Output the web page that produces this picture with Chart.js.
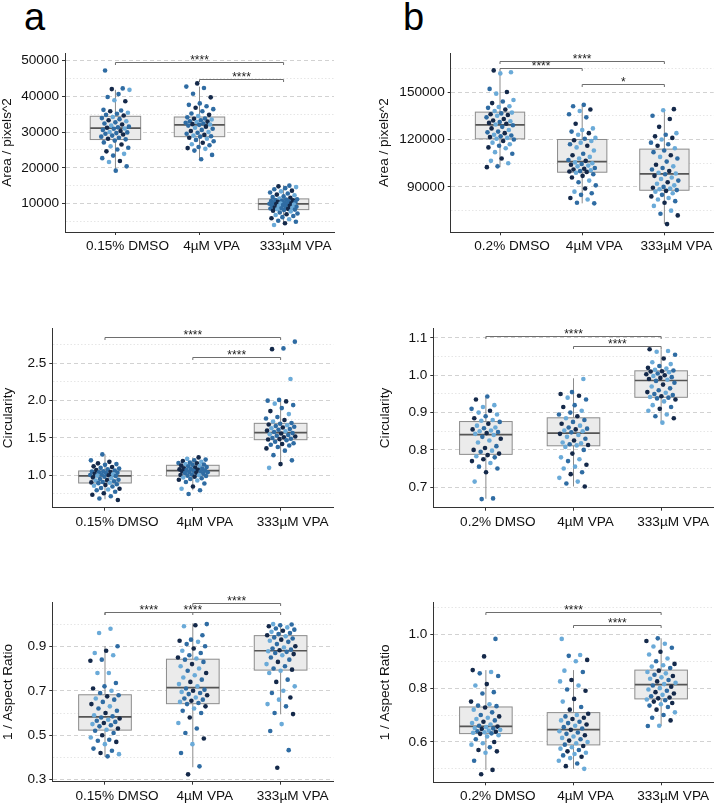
<!DOCTYPE html>
<html><head><meta charset="utf-8">
<script src="https://cdn.jsdelivr.net/npm/chart.js@4.4.1/dist/chart.umd.min.js"></script>
<style>
body{margin:0;background:#fff;width:716px;height:803px;position:relative;overflow:hidden;font-family:"Liberation Sans",Arial,Helvetica,sans-serif}
canvas{position:absolute}
.lbl{position:absolute;font-size:38px;line-height:38px;color:#000;font-family:"Liberation Sans",Arial,sans-serif}
</style></head><body>
<div class="lbl" style="left:24px;top:-2px">a</div>
<div class="lbl" style="left:403px;top:-2px">b</div>
<script>
// ---------- categories ----------
const categoriesA = ['0.15% DMSO', '4µM VPA', '333µM VPA'];
const categoriesB = ['0.2% DMSO', '4µM VPA', '333µM VPA'];

// ---------- tick labels ----------
const areaA_ticks = [10000, 20000, 30000, 40000, 50000];
const areaB_ticks = [90000, 120000, 150000];
const circA_ticks = [1.0, 1.5, 2.0, 2.5];
const circB_ticks = [0.7, 0.8, 0.9, 1.0, 1.1];
const arA_ticks = [0.3, 0.5, 0.7, 0.9];
const arB_ticks = [0.6, 0.8, 1.0];
const areaA_minor = [5000, 15000, 25000, 35000, 45000];
const areaB_minor = [75000, 105000, 135000, 165000];
const circA_minor = [0.75, 1.25, 1.75, 2.25, 2.75];
const circB_minor = [0.75, 0.85, 0.95, 1.05];
const arA_minor = [0.4, 0.6, 0.8, 1.0];
const arB_minor = [0.5, 0.7, 0.9, 1.1];

// ---------- box statistics [lowWhisker, q1, median, q3, highWhisker] ----------
const areaA_boxes = [[19300, 27900, 31100, 34400, 41800], [22400, 28700, 32000, 34200, 42700], [4800, 8300, 9900, 11300, 15100]];
const areaB_boxes = [[102500, 120400, 129300, 137300, 162400], [79600, 99300, 106000, 120000, 141900], [66500, 87900, 98200, 113900, 139200]];
const circA_boxes = [[0.679, 0.897, 0.991, 1.058, 1.281], [0.80, 0.991, 1.062, 1.134, 1.24], [1.151, 1.477, 1.571, 1.696, 2.01]];
const circB_boxes = [[0.669, 0.788, 0.841, 0.876, 0.941], [0.702, 0.811, 0.845, 0.886, 0.992], [0.873, 0.941, 0.986, 1.012, 1.070]];
const arA_boxes = [[0.403, 0.523, 0.583, 0.682, 0.901], [0.356, 0.642, 0.714, 0.842, 1.003], [0.594, 0.793, 0.880, 0.948, 1.003]];
const arB_boxes = [[0.496, 0.631, 0.658, 0.730, 0.867], [0.50, 0.589, 0.646, 0.709, 0.867], [0.659, 0.760, 0.813, 0.867, 0.985]];

// ---------- significance brackets [fromGroup, toGroup, yValue, label] ----------
const areaA_sig = [[0, 2, 49700, '****'], [1, 2, 44800, '****']];
const areaB_sig = [[0, 2, 169400, '****'], [0, 1, 165000, '****'], [1, 2, 155300, '*']];
const circA_sig = [[0, 2, 2.856, '****'], [1, 2, 2.584, '****']];
const circB_sig = [[0, 2, 1.105, '****'], [1, 2, 1.078, '****']];
const arA_sig = [[0, 1, 1.056, '****'], [0, 2, 1.056, '****'], [1, 2, 1.093, '****']];
const arB_sig = [[0, 2, 1.082, '****'], [1, 2, 1.033, '****']];

// ---------- individual cell values ----------
const areaA_dmso = [47200, 42200, 42000, 41800, 40600, 39800, 38600, 38900, 36200, 36000, 35800, 35400, 35100, 34800, 34600,
  34200, 33900, 33600, 33300, 33000, 32700, 32400, 32100, 31800, 31500, 31300, 31200, 31000,
  30900, 30600, 30300, 30000, 29900, 29700, 29500, 29300, 29000, 28700, 28400, 28100, 27950,
  27600, 27100, 26500, 26000, 25600, 25100, 24600, 23900, 23400, 22700, 21900, 21600, 20400, 19200];
const areaA_vpa4 = [43600, 42700, 42300, 40700, 39700, 38000, 37600, 37200, 36800, 36400, 35800, 35200, 34800, 34500,
  34100, 33800, 33700, 33500, 33300, 33000, 32900, 32800, 32600, 32400, 32200, 32100, 32000,
  31800, 31500, 31200, 30900, 30600, 30300, 30000, 29800, 29500, 29200, 29000, 28800, 28700,
  28400, 28100, 27800, 27400, 27000, 26600, 26300, 25800, 25500, 25300, 24800, 23600, 22400];
const areaA_vpa333 = [15000, 14800, 14600, 14300, 14000, 13600, 13400, 13100, 12800, 12500, 12300, 12000, 11800, 11600, 11400,
  11200, 11100, 11000, 10900, 10800, 10700, 10600, 10500, 10400, 10300, 10200, 10100, 10000, 9950, 9900,
  9850, 9700, 9600, 9500, 9400, 9300, 9100, 9000, 8900, 8800, 8700, 8600, 8500, 8400, 8300,
  8200, 8000, 7800, 7500, 7200, 7000, 6800, 6500, 6200, 5900, 5600, 5200, 4900, 4500, 4000];

const areaB_dmso = [163700, 162500, 161800, 152000, 150000, 149000, 145000, 144000, 143000, 141000, 140500, 140000, 139000, 138000,
  137000, 136500, 136000, 135500, 135000, 134000, 133000, 132000, 131500, 131000, 130500, 130000, 129500,
  129000, 128000, 127000, 126000, 125000, 124500, 124000, 123000, 122500, 122000, 121500, 121000, 120500,
  120000, 119000, 118000, 117000, 116000, 115000, 114500, 112000, 111000, 108000, 106500, 105000, 103000, 102500];
const areaB_vpa4 = [141900, 141000, 139000, 138000, 136000, 134000, 130000, 127000, 126000, 125000, 124000, 123000, 121000, 120500,
  119500, 119000, 118000, 117000, 116000, 115000, 113000, 111000, 110000, 109000, 108000, 107000, 106500,
  105500, 105000, 104500, 104000, 103500, 103000, 102000, 101500, 101000, 100500, 100000, 99800, 99500,
  99000, 98000, 97000, 96000, 94000, 93000, 91000, 89000, 87000, 86000, 85000, 83000, 82000, 80000, 79600];
const areaB_vpa333 = [139200, 138500, 135000, 133000, 128000, 124000, 123000, 122000, 121000, 120000, 118000, 117000, 116000, 114500,
  113000, 112000, 110000, 109000, 108000, 106000, 104000, 103000, 102000, 101000, 100000, 99000, 98500,
  98000, 97000, 96000, 95000, 94000, 93000, 92000, 91000, 90000, 89500, 89000, 88500, 88000,
  87500, 87000, 86000, 85000, 84000, 83000, 82000, 81000, 80000, 78000, 75000, 73000, 72000, 66500];

const circA_dmso = [1.28, 1.20, 1.18, 1.16, 1.15, 1.14, 1.12, 1.11, 1.10, 1.09, 1.08, 1.07, 1.065,
  1.055, 1.05, 1.045, 1.04, 1.035, 1.03, 1.02, 1.015, 1.01, 1.005, 1.0, 0.995,
  0.99, 0.98, 0.97, 0.96, 0.95, 0.94, 0.935, 0.93, 0.92, 0.91, 0.905, 0.90,
  0.895, 0.88, 0.87, 0.86, 0.85, 0.83, 0.82, 0.81, 0.80, 0.78, 0.76, 0.74, 0.72, 0.69, 0.67];
const circA_vpa4 = [1.24, 1.22, 1.21, 1.20, 1.19, 1.18, 1.17, 1.165, 1.16, 1.15, 1.145, 1.14,
  1.13, 1.125, 1.12, 1.11, 1.10, 1.095, 1.09, 1.085, 1.08, 1.075, 1.07, 1.065,
  1.06, 1.055, 1.05, 1.045, 1.04, 1.035, 1.03, 1.02, 1.01, 1.005, 1.0, 0.995,
  0.99, 0.98, 0.97, 0.96, 0.95, 0.94, 0.93, 0.91, 0.89, 0.85, 0.82, 0.80, 0.75];
const circA_vpa333 = [2.79, 2.70, 2.69, 2.29, 2.01, 2.00, 1.99, 1.96, 1.94, 1.90, 1.86, 1.82, 1.78, 1.76, 1.74, 1.72, 1.70,
  1.69, 1.68, 1.67, 1.66, 1.65, 1.64, 1.63, 1.62, 1.61, 1.60, 1.59, 1.58,
  1.565, 1.56, 1.55, 1.54, 1.53, 1.52, 1.51, 1.50, 1.49, 1.485, 1.48,
  1.47, 1.45, 1.43, 1.42, 1.41, 1.40, 1.38, 1.36, 1.33, 1.27, 1.20, 1.15, 1.10];

const circB_dmso = [0.943, 0.935, 0.92, 0.915, 0.91, 0.905, 0.90, 0.895, 0.89, 0.885, 0.88, 0.878,
  0.875, 0.87, 0.865, 0.86, 0.858, 0.855, 0.852, 0.85, 0.848, 0.845, 0.843,
  0.84, 0.835, 0.83, 0.825, 0.82, 0.81, 0.805, 0.80, 0.798, 0.795, 0.79,
  0.786, 0.783, 0.78, 0.775, 0.77, 0.765, 0.755, 0.75, 0.74, 0.715, 0.67, 0.668];
const circB_vpa4 = [0.99, 0.955, 0.95, 0.945, 0.94, 0.935, 0.92, 0.915, 0.905, 0.90, 0.895, 0.89,
  0.885, 0.88, 0.875, 0.87, 0.865, 0.86, 0.857, 0.855, 0.852, 0.85, 0.847,
  0.843, 0.84, 0.835, 0.83, 0.825, 0.82, 0.818, 0.815, 0.813, 0.812,
  0.808, 0.80, 0.79, 0.78, 0.775, 0.77, 0.76, 0.755, 0.75, 0.74, 0.735, 0.725, 0.715, 0.71, 0.702];
const circB_vpa333 = [1.07, 1.065, 1.063, 1.055, 1.045, 1.035, 1.03, 1.025, 1.02, 1.018, 1.015, 1.013,
  1.011, 1.01, 1.008, 1.005, 1.003, 1.0, 0.998, 0.995, 0.993, 0.99, 0.988,
  0.985, 0.98, 0.975, 0.97, 0.965, 0.96, 0.955, 0.953, 0.95, 0.947, 0.944, 0.942,
  0.94, 0.938, 0.935, 0.93, 0.92, 0.915, 0.91, 0.905, 0.895, 0.89, 0.885, 0.873];

const arA_dmso = [0.979, 0.96, 0.90, 0.88, 0.87, 0.86, 0.84, 0.835, 0.78, 0.78, 0.735, 0.72, 0.71, 0.70, 0.69,
  0.68, 0.675, 0.665, 0.66, 0.65, 0.64, 0.63, 0.62, 0.61, 0.60, 0.59, 0.585,
  0.58, 0.575, 0.57, 0.565, 0.56, 0.555, 0.55, 0.545, 0.54, 0.53, 0.525,
  0.52, 0.51, 0.50, 0.49, 0.48, 0.475, 0.47, 0.46, 0.44, 0.43, 0.42, 0.415, 0.405];
const arA_vpa4 = [1.0, 0.995, 0.99, 0.95, 0.93, 0.925, 0.92, 0.91, 0.90, 0.89, 0.88, 0.87, 0.86, 0.85, 0.845,
  0.84, 0.83, 0.82, 0.81, 0.80, 0.79, 0.78, 0.77, 0.76, 0.75, 0.74, 0.73, 0.72,
  0.71, 0.705, 0.70, 0.695, 0.69, 0.685, 0.68, 0.67, 0.665, 0.66, 0.655, 0.65, 0.645,
  0.64, 0.63, 0.62, 0.61, 0.60, 0.58, 0.555, 0.53, 0.51, 0.485, 0.46, 0.42, 0.36, 0.324];
const arA_vpa333 = [1.0, 0.998, 0.995, 0.99, 0.985, 0.98, 0.975, 0.97, 0.965, 0.96, 0.955, 0.95,
  0.945, 0.94, 0.935, 0.93, 0.925, 0.92, 0.91, 0.90, 0.895, 0.89, 0.885, 0.882,
  0.878, 0.875, 0.87, 0.865, 0.86, 0.85, 0.84, 0.83, 0.82, 0.81, 0.80, 0.795,
  0.79, 0.78, 0.75, 0.74, 0.72, 0.70, 0.69, 0.67, 0.66, 0.64, 0.63, 0.60, 0.595, 0.55, 0.519, 0.433, 0.354];

const arB_dmso = [0.983, 0.918, 0.867, 0.86, 0.855, 0.845, 0.815, 0.81, 0.785, 0.78, 0.75, 0.74, 0.735, 0.733,
  0.728, 0.72, 0.71, 0.70, 0.695, 0.69, 0.685, 0.68, 0.675, 0.67, 0.665, 0.66,
  0.657, 0.655, 0.652, 0.65, 0.648, 0.645, 0.642, 0.64, 0.638, 0.636, 0.634, 0.632,
  0.63, 0.625, 0.62, 0.61, 0.60, 0.595, 0.59, 0.58, 0.57, 0.565, 0.56, 0.53, 0.496, 0.48];
const arB_vpa4 = [0.983, 0.923, 0.92, 0.905, 0.90, 0.865, 0.86, 0.83, 0.825, 0.81, 0.795, 0.79, 0.76, 0.75, 0.73, 0.72,
  0.705, 0.70, 0.695, 0.69, 0.685, 0.68, 0.675, 0.67, 0.665, 0.66, 0.655, 0.65,
  0.645, 0.64, 0.635, 0.63, 0.625, 0.62, 0.615, 0.61, 0.605, 0.60, 0.595, 0.59,
  0.585, 0.58, 0.575, 0.57, 0.565, 0.56, 0.555, 0.55, 0.545, 0.54, 0.53, 0.52, 0.51, 0.50];
const arB_vpa333 = [0.985, 0.975, 0.965, 0.955, 0.95, 0.935, 0.925, 0.91, 0.90, 0.89, 0.885, 0.88, 0.875,
  0.865, 0.86, 0.855, 0.85, 0.845, 0.84, 0.835, 0.83, 0.825, 0.82, 0.815,
  0.81, 0.805, 0.80, 0.795, 0.79, 0.785, 0.78, 0.775, 0.77, 0.765, 0.762,
  0.758, 0.755, 0.75, 0.745, 0.74, 0.735, 0.73, 0.72, 0.71, 0.70, 0.69, 0.68, 0.66, 0.659];

// ---------- styling / layout ----------
const FONT = '"Liberation Sans", Arial, Helvetica, sans-serif';
const PALETTE = ['#14294a', '#2f6ca3', '#6aaad8'];
const BOX_W = 0.6, JIT = 0.17;

const panels = [
  {cats: categoriesA, groups: [areaA_dmso, areaA_vpa4, areaA_vpa333], boxes: areaA_boxes, majors: areaA_ticks, minors: areaA_minor, sig: areaA_sig,
   title: 'Area / pixels^2', dec: 0, x: 0, y: 40, w: 345, h: 222, yW: 65, xH: 30, padTop: 13, padRight: 11, min: 2040, max: 52100, tPad: 0, seed: 1, cw: [0.25, 0.55]},
  {cats: categoriesB, groups: [areaB_dmso, areaB_vpa4, areaB_vpa333], boxes: areaB_boxes, majors: areaB_ticks, minors: areaB_minor, sig: areaB_sig,
   title: 'Area / pixels^2', dec: 0, x: 360, y: 40, w: 356, h: 222, yW: 90.7, xH: 29.7, padTop: 13, padRight: 1, min: 61300, max: 174700, tPad: 17, seed: 2, cw: [0.3, 0.32]},
  {cats: categoriesA, groups: [circA_dmso, circA_vpa4, circA_vpa333], boxes: circA_boxes, majors: circA_ticks, minors: circA_minor, sig: circA_sig,
   title: 'Circularity', dec: 1, x: 0, y: 315, w: 345, h: 225, yW: 52.3, xH: 32.3, padTop: 13.3, padRight: 11.7, min: 0.566, max: 2.969, tPad: 1.3, seed: 3, cw: [0.3, 0.55]},
  {cats: categoriesB, groups: [circB_dmso, circB_vpa4, circB_vpa333], boxes: circB_boxes, majors: circB_ticks, minors: circB_minor, sig: circB_sig,
   title: 'Circularity', dec: 1, x: 360, y: 315, w: 356, h: 225, yW: 73.3, xH: 32.3, padTop: 13.3, padRight: 2, min: 0.645, max: 1.126, tPad: 18, seed: 4, cw: [0.3, 0.32]},
  {cats: categoriesA, groups: [arA_dmso, arA_vpa4, arA_vpa333], boxes: arA_boxes, majors: arA_ticks, minors: arA_minor, sig: arA_sig,
   title: '1 / Aspect Ratio', dec: 1, x: 0, y: 590, w: 345, h: 213, yW: 52.3, xH: 21.3, padTop: 12.3, padRight: 11.7, min: 0.291, max: 1.098, tPad: 1.3, seed: 5, cw: [0.25, 0.45]},
  {cats: categoriesB, groups: [arB_dmso, arB_vpa4, arB_vpa333], boxes: arB_boxes, majors: arB_ticks, minors: arB_minor, sig: arB_sig,
   title: '1 / Aspect Ratio', dec: 1, x: 360, y: 590, w: 356, h: 213, yW: 73.3, xH: 20.7, padTop: 12.3, padRight: 2, min: 0.450, max: 1.119, tPad: 18, seed: 6, cw: [0.3, 0.32]}
];

function frac(v) { return v - Math.floor(v); }
function jitter(i, g, s) { return (frac(i * 0.6180339887 + g * 0.283 + s * 0.137) - 0.5) * 2 * JIT; }
function colorOf(i, g, s, cw) {
  const r = frac(i * 0.7548776662 + g * 0.4142 + s * 0.59);
  return r < cw[0] ? PALETTE[0] : (r < cw[0] + cw[1] ? PALETTE[1] : PALETTE[2]);
}

const boxPlugin = {
  id: 'boxes',
  beforeDatasetsDraw(chart) {
    const p = chart.config.options.plugins.boxes;
    const {ctx, scales: {x, y}} = chart;
    ctx.save();
    p.boxes.forEach((b, g) => {
      const xc = x.getPixelForValue(g);
      const xl = x.getPixelForValue(g - BOX_W / 2), xr = x.getPixelForValue(g + BOX_W / 2);
      const yLo = y.getPixelForValue(b[0]), yQ1 = y.getPixelForValue(b[1]), yMed = y.getPixelForValue(b[2]),
            yQ3 = y.getPixelForValue(b[3]), yHi = y.getPixelForValue(b[4]);
      ctx.strokeStyle = '#8c8c8c'; ctx.lineWidth = 1;
      ctx.beginPath();
      ctx.moveTo(xc, yQ3); ctx.lineTo(xc, yHi);
      ctx.moveTo(xc, yQ1); ctx.lineTo(xc, yLo);
      ctx.stroke();
      ctx.fillStyle = '#ebebeb';
      ctx.fillRect(xl, yQ3, xr - xl, yQ1 - yQ3);
      ctx.strokeRect(xl, yQ3, xr - xl, yQ1 - yQ3);
      ctx.strokeStyle = '#555'; ctx.lineWidth = 1.7;
      ctx.beginPath(); ctx.moveTo(xl, yMed); ctx.lineTo(xr, yMed); ctx.stroke();
    });
    ctx.restore();
  },
  afterDatasetsDraw(chart) {
    const p = chart.config.options.plugins.boxes;
    const {ctx, scales: {x, y}} = chart;
    ctx.save();
    p.sig.forEach(s => {
      const x1 = x.getPixelForValue(s[0]), x2 = x.getPixelForValue(s[1]);
      const yy = Math.round(y.getPixelForValue(s[2])) + 0.5;
      ctx.strokeStyle = '#6e6e6e'; ctx.lineWidth = 1;
      ctx.beginPath();
      ctx.moveTo(x1, yy + 2.5); ctx.lineTo(x1, yy); ctx.lineTo(x2, yy); ctx.lineTo(x2, yy + 2.5);
      ctx.stroke();
      ctx.fillStyle = '#222';
      ctx.font = '12px ' + FONT;
      ctx.textAlign = 'center'; ctx.textBaseline = 'alphabetic';
      ctx.fillText(s[3], (x1 + x2) / 2, yy + 1);
    });
    ctx.restore();
  }
};

panels.forEach(p => {
  const cv = document.createElement('canvas');
  cv.width = p.w; cv.height = p.h;
  cv.style.left = p.x + 'px'; cv.style.top = p.y + 'px';
  cv.style.width = p.w + 'px'; cv.style.height = p.h + 'px';
  document.body.appendChild(cv);
  const datasets = p.groups.map((vals, g) => ({
    data: vals.map((v, i) => ({x: g + jitter(i, g, p.seed), y: v})),
    pointBackgroundColor: vals.map((v, i) => colorOf(i, g, p.seed, p.cw)),
    pointBorderWidth: 0, pointRadius: 2.3, pointHoverRadius: 2.3
  }));
  const majorSet = p.majors.map(v => v.toFixed(4));
  const isMajor = v => majorSet.includes(Number(v).toFixed(4));
  new Chart(cv.getContext('2d'), {
    type: 'scatter',
    data: {datasets},
    options: {
      responsive: false, animation: false, devicePixelRatio: 1,
      layout: {padding: {left: 0, top: p.padTop, right: p.padRight, bottom: 0}},
      plugins: {legend: {display: false}, tooltip: {enabled: false}, boxes: {boxes: p.boxes, sig: p.sig}},
      scales: {
        x: {
          type: 'linear', min: -0.6, max: 2.6, bounds: 'data',
          afterBuildTicks: s => { s.ticks = [0, 1, 2].map(v => ({value: v})); },
          afterFit: s => { s.height = p.xH; },
          ticks: {callback: v => p.cats[v], font: {family: FONT, size: 13.6}, color: '#111', padding: 3, maxRotation: 0, autoSkip: false, labelOffset: 12},
          grid: {drawOnChartArea: false, drawTicks: true, tickLength: 3, tickColor: '#333'},
          border: {color: '#333', width: 1}
        },
        y: {
          type: 'linear', min: p.min, max: p.max, bounds: 'data',
          afterBuildTicks: s => {
            s.ticks = p.majors.concat(p.minors).sort((a, b) => a - b).map(v => ({value: v}));
          },
          afterFit: s => { s.width = p.yW; },
          ticks: {
            callback: v => isMajor(v) ? Number(v).toFixed(p.dec) : '',
            font: {family: FONT, size: 13.6}, color: '#111', padding: 3, autoSkip: false
          },
          grid: {
            color: c => (c.tick && isMajor(c.tick.value)) ? '#d2d2d2' : '#e6e6e6',
            tickColor: c => (c.tick && isMajor(c.tick.value)) ? '#333' : 'rgba(0,0,0,0)',
            tickLength: 3, lineWidth: 1
          },
          border: {
            color: '#333', width: 1,
            dash: c => c.tick ? (isMajor(c.tick.value) ? [4, 3] : [1.5, 2]) : []
          },
          title: {display: true, text: p.title, color: '#111', font: {family: FONT, size: 13.6, lineHeight: 1}, padding: {top: p.tPad, bottom: 0}}
        }
      }
    },
    plugins: [boxPlugin]
  });
});
</script>
</body></html>
